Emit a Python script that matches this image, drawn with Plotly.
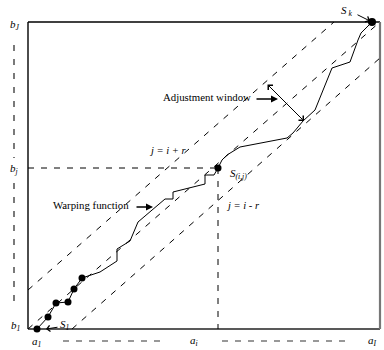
import plotly.graph_objects as go

# ---- diagram data (pixel-like units: x right, y down) ----
# warping path
path_x = [37, 48, 56, 68, 74, 82, 100, 117, 117, 130, 138, 152, 165, 173, 173, 193, 205, 205, 214, 218,
          222, 227, 240, 287, 293, 303, 315, 332, 350, 358, 361, 367, 372]
path_y = [329, 317, 303, 302, 289, 278, 272, 261, 249, 241, 222, 210, 199, 199, 192, 187, 184, 175, 175, 168,
          160, 155, 147, 138, 133, 121, 110, 68, 62, 40, 33, 27, 22]

dots_x = [37, 48, 56, 68, 74, 82, 218]
dots_y = [329, 317, 303, 302, 289, 278, 168]
end_x = [372]
end_y = [22]

# diagonal band lines: upper (j=i+r), middle, lower (j=i-r)
upper_x = [28, 334]
upper_y = [290, 22]
middle_x = [28, 380]
middle_y = [329, 22]
lower_x = [72, 380]
lower_y = [329, 58]

# guide lines to S(i,j)
hguide_x = [28, 218]
hguide_y = [168, 168]
vguide_x = [218, 218]
vguide_y = [168, 329]

# outer axis dashes
left_axis_x = [[14, 14], [14, 14]]
left_axis_y = [[45, 158], [183, 306]]
bottom_axis_x = [[63, 166], [222, 352]]
bottom_axis_y = [[341, 341], [341, 341]]

FONT = "Liberation Serif"
fig = go.Figure()

def line(x, y, dash="solid", width=1, color="black"):
    fig.add_trace(go.Scatter(x=x, y=y, mode="lines", hoverinfo="skip",
                             line=dict(color=color, width=width, dash=dash)))

# box
line([28, 380], [22, 22], width=1.4)
line([28, 28], [22, 329], width=1.4)
line([28, 380], [329, 329], width=1.4, color="#222")
line([380, 380], [22, 329], width=2.2, color="#777")

dash = "6px,7px"
line(upper_x, upper_y, dash)
line(middle_x, middle_y, dash)
line(lower_x, lower_y, dash)
line(hguide_x, hguide_y, dash)
line(vguide_x, vguide_y, dash)
for xs, ys in zip(left_axis_x, left_axis_y):
    line(xs, ys, "6px,8px", width=1.3, color="#333")
for xs, ys in zip(bottom_axis_x, bottom_axis_y):
    line(xs, ys, "6px,7px", width=1.2, color="#333")

line(path_x, path_y, width=1)

fig.add_trace(go.Scatter(x=dots_x, y=dots_y, mode="markers", hoverinfo="skip",
                         marker=dict(color="black", size=7)))
fig.add_trace(go.Scatter(x=end_x, y=end_y, mode="markers", hoverinfo="skip",
                         marker=dict(color="black", size=8)))

def txt(x, y, s, size=10, italic=False, xanchor="center"):
    if italic:
        s = "<i>" + s + "</i>"
    fig.add_annotation(x=x, y=y, text=s, showarrow=False, xanchor=xanchor, yanchor="middle",
                       font=dict(family=FONT, size=size, color="black"))

txt(15, 25, "b<sub>J</sub>", 11, True)
txt(14, 169, "b<sub>j</sub>", 11, True)
txt(16, 326, "b<sub>1</sub>", 11, True)
txt(37, 342, "a<sub>1</sub>", 11, True)
txt(194, 341, "a<sub>i</sub>", 11, True)
txt(372, 341, "a<sub>I</sub>", 11, True)
txt(346, 11, "S<sub> k</sub>", 11, True)
txt(65, 325, "S<sub>1</sub>", 11, True)
txt(228, 174, "S<sub>(i,j)</sub>", 11, True, xanchor="left")
txt(168, 150, "j = i + r", 10.5, True)
txt(243, 205, "j = i - r", 10.5, True)
txt(207, 97, "Adjustment window", 10.8)
txt(91, 205, "Warping function", 10.8)

def arrow(x, y, ax, ay, head=2, side="end", width=1, size=1):
    fig.add_annotation(x=x, y=y, ax=ax, ay=ay, axref="x", ayref="y", xref="x", yref="y",
                       text="", showarrow=True, arrowhead=head, startarrowhead=head,
                       arrowside=side, arrowwidth=width, arrowsize=size, arrowcolor="black")

arrow(278, 99, 255, 99, head=2, width=1.4)
arrow(153, 207, 135, 207, head=2, width=1.4)
arrow(304, 121, 266, 83, head=4, side="end+start", width=1, size=1.3)
arrow(370, 21, 356, 14, head=4, width=1, size=1.2)
arrow(46, 329, 59, 327, head=4, width=1, size=1.2)

fig.update_layout(
    width=384, height=350, margin=dict(l=0, r=0, t=0, b=0),
    paper_bgcolor="white", plot_bgcolor="white", showlegend=False,
    xaxis=dict(range=[0, 384], visible=False, fixedrange=True),
    yaxis=dict(range=[350, 0], visible=False, fixedrange=True),
)
fig.write_html("out.html", config={"displayModeBar": False},
               post_script="document.body.style.margin='0';document.body.style.overflow='hidden';")
